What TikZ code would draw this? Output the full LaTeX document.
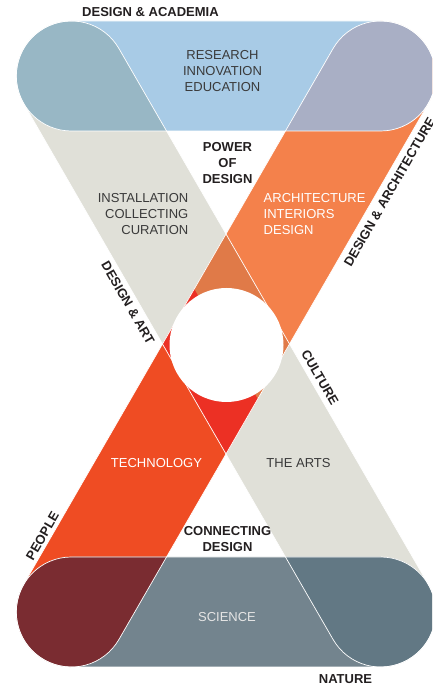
\documentclass[tikz,border=0pt]{standalone}
\usepackage{fontspec}
\setmainfont{Liberation Sans}
\definecolor{bandgray}{HTML}{E0E0D8}
\definecolor{bandorange}{HTML}{F4814B}
\definecolor{bandtech}{HTML}{EF4C23}
\definecolor{ovlup}{HTML}{E07A48}
\definecolor{ovldn}{HTML}{EC3024}
\definecolor{topblue}{HTML}{A8CBE6}
\definecolor{topteal}{HTML}{98B7C5}
\definecolor{toplav}{HTML}{A9AFC5}
\definecolor{botslate}{HTML}{73848E}
\definecolor{botmaroon}{HTML}{7A2C31}
\definecolor{botdark}{HTML}{627884}
\definecolor{txtdark}{HTML}{231F20}
\definecolor{txtgray}{HTML}{3A3A3A}
\tikzset{
  lbl/.style = {align=center, inner sep=0pt, text=txtgray,
    font=\fontsize{13}{16}\selectfont},
  lbl_b/.style = {lbl, text=txtdark, font=\fontsize{13}{16}\selectfont\bfseries},
  rim/.style = {draw=white, line width=0.7pt}}
\newcommand{\pill}[1]{(-#1,55) -- (#1,55) arc[start angle=90,end angle=-90,radius=55]
  -- (-#1,-55) arc[start angle=270,end angle=90,radius=55] -- cycle}

\begin{document}
\begin{tikzpicture}[x=1pt,y=1pt]
\useasboundingbox (0,0) rectangle (432,687);
\clip (0,0) rectangle (432,687);
\coordinate (mid) at (226,343);
\coordinate (top) at (226,611);
\coordinate (bot) at (226,75);

% crossing bands
\fill[bandgray, shift={(mid)}, rotate=-60] \pill{309.5};
\begin{scope}
  \clip[shift={(mid)}, rotate=60] \pill{309.5};
  \fill[bandorange, shift={(mid)}, rotate=-60] (-400,0) rectangle (400,400);
  \fill[bandtech, shift={(mid)}, rotate=-60] (-400,-400) rectangle (400,0);
  \clip[shift={(mid)}, rotate=-60] \pill{309.5};
  \fill[ovlup, shift={(mid)}, rotate=-60] (-400,0) rectangle (400,400);
  \fill[ovldn, shift={(mid)}, rotate=-60] (-400,-400) rectangle (400,0);
\end{scope}

% top and bottom bands
\begin{scope}
  \clip[shift={(top)}] \pill{154.7};
  \fill[topblue] (0,0) rectangle (432,687);
  \fill[topteal, shift={(mid)}, rotate=-60] \pill{309.5};
  \fill[toplav, shift={(mid)}, rotate=60] \pill{309.5};
\end{scope}
\begin{scope}
  \clip[shift={(bot)}] \pill{154.7};
  \fill[botslate] (0,0) rectangle (432,687);
  \fill[botdark, shift={(mid)}, rotate=-60] \pill{309.5};
  \fill[botmaroon, shift={(mid)}, rotate=60] \pill{309.5};
\end{scope}

\foreach \a in {60,-60}
  \draw[rim, shift={(mid)}, rotate=\a] \pill{309.5};
\draw[rim, shift={(top)}] \pill{154.7};
\draw[rim, shift={(bot)}] \pill{154.7};
\fill[white] (226.5,342) circle[radius=57];

\node[lbl_b] (acad) at (150.5,675) {DESIGN \& ACADEMIA};
\node[lbl] (rie) at (222.5,616) {RESEARCH\\INNOVATION\\EDUCATION};
\node[lbl_b] (power) at (227.5,523.5) {POWER\\OF\\DESIGN};
\node[lbl, align=right, anchor=east] (icc) at (188.5,472.5) {INSTALLATION\\COLLECTING\\CURATION};
\node[lbl, align=left, anchor=west, text=white] (aid) at (263.5,472.5) {ARCHITECTURE\\INTERIORS\\DESIGN};
\node[lbl_b, rotate=60] (darch) at (389.5,495) {DESIGN \& ARCHITECTURE};
\node[lbl_b, rotate=-60] (dart) at (128,384) {DESIGN \& ART};
\node[lbl_b, rotate=-60] (cult) at (320,309.5) {CULTURE};
\node[lbl, text=white] (tech) at (156.5,224) {TECHNOLOGY};
\node[lbl] (arts) at (298.5,224) {THE ARTS};
\node[lbl_b, rotate=60] (ppl) at (42.5,151) {PEOPLE};
\node[lbl_b] (conn) at (227.5,147.5) {CONNECTING\\DESIGN};
\node[lbl, text=white!90!black] (sci) at (227,70) {SCIENCE};
\node[lbl_b] (nat) at (345.5,8) {NATURE};
\end{tikzpicture}
\end{document}
